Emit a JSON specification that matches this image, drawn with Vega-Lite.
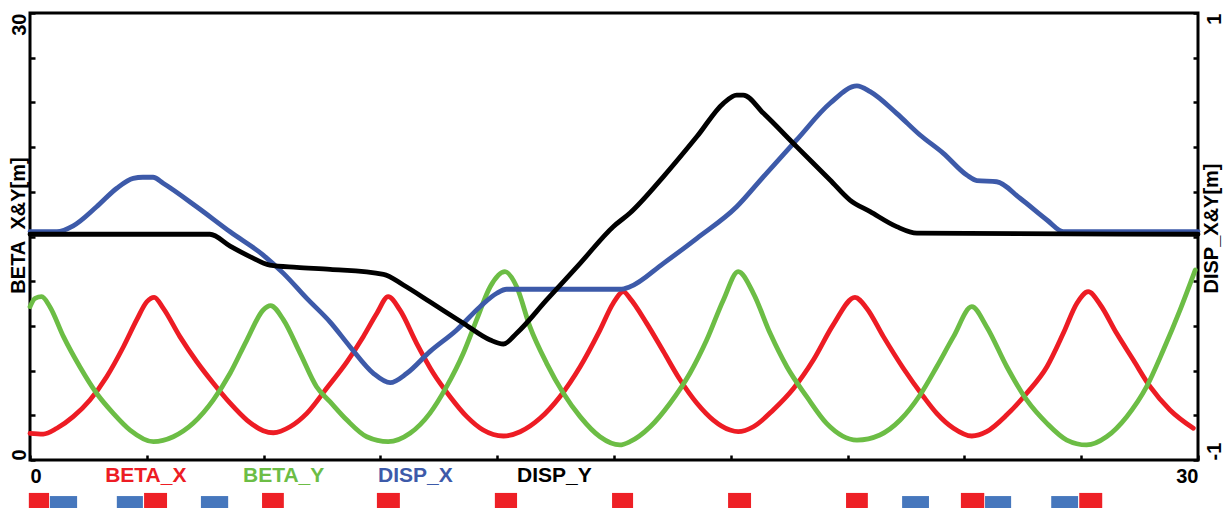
{
  "$schema": "https://vega.github.io/schema/vega-lite/v6.json",
  "width": 1168,
  "height": 447,
  "autosize": {"type": "none"},
  "padding": {"left": 30, "top": 13, "right": 34, "bottom": 55},
  "background": "white",
  "datasets": {
    "beta": [
      {"s": 0, "v": 1.79, "series": "BETA_X"},
      {"s": 0.34, "v": 1.74, "series": "BETA_X"},
      {"s": 0.69, "v": 2.13, "series": "BETA_X"},
      {"s": 1.11, "v": 2.91, "series": "BETA_X"},
      {"s": 1.54, "v": 4.03, "series": "BETA_X"},
      {"s": 1.97, "v": 5.59, "series": "BETA_X"},
      {"s": 2.40, "v": 7.60, "series": "BETA_X"},
      {"s": 2.74, "v": 9.40, "series": "BETA_X"},
      {"s": 3.00, "v": 10.62, "series": "BETA_X"},
      {"s": 3.19, "v": 10.92, "series": "BETA_X"},
      {"s": 3.42, "v": 10.19, "series": "BETA_X"},
      {"s": 3.85, "v": 8.28, "series": "BETA_X"},
      {"s": 4.28, "v": 6.61, "series": "BETA_X"},
      {"s": 4.71, "v": 5.15, "series": "BETA_X"},
      {"s": 5.14, "v": 3.81, "series": "BETA_X"},
      {"s": 5.57, "v": 2.68, "series": "BETA_X"},
      {"s": 5.99, "v": 1.97, "series": "BETA_X"},
      {"s": 6.25, "v": 1.83, "series": "BETA_X"},
      {"s": 6.68, "v": 2.23, "series": "BETA_X"},
      {"s": 7.11, "v": 3.13, "series": "BETA_X"},
      {"s": 7.62, "v": 4.82, "series": "BETA_X"},
      {"s": 8.14, "v": 6.59, "series": "BETA_X"},
      {"s": 8.56, "v": 8.28, "series": "BETA_X"},
      {"s": 8.91, "v": 9.85, "series": "BETA_X"},
      {"s": 9.20, "v": 10.96, "series": "BETA_X"},
      {"s": 9.50, "v": 10.07, "series": "BETA_X"},
      {"s": 9.93, "v": 7.83, "series": "BETA_X"},
      {"s": 10.36, "v": 5.82, "series": "BETA_X"},
      {"s": 10.79, "v": 4.25, "series": "BETA_X"},
      {"s": 11.22, "v": 2.91, "series": "BETA_X"},
      {"s": 11.64, "v": 2.01, "series": "BETA_X"},
      {"s": 12.16, "v": 1.61, "series": "BETA_X"},
      {"s": 12.59, "v": 1.90, "series": "BETA_X"},
      {"s": 13.10, "v": 2.80, "series": "BETA_X"},
      {"s": 13.61, "v": 4.25, "series": "BETA_X"},
      {"s": 14.13, "v": 6.26, "series": "BETA_X"},
      {"s": 14.64, "v": 8.72, "series": "BETA_X"},
      {"s": 14.98, "v": 10.52, "series": "BETA_X"},
      {"s": 15.24, "v": 11.30, "series": "BETA_X"},
      {"s": 15.41, "v": 10.85, "series": "BETA_X"},
      {"s": 15.84, "v": 9.17, "series": "BETA_X"},
      {"s": 16.27, "v": 7.28, "series": "BETA_X"},
      {"s": 16.70, "v": 5.37, "series": "BETA_X"},
      {"s": 17.13, "v": 3.81, "series": "BETA_X"},
      {"s": 17.55, "v": 2.68, "series": "BETA_X"},
      {"s": 17.98, "v": 2.01, "series": "BETA_X"},
      {"s": 18.19, "v": 1.90, "series": "BETA_X"},
      {"s": 18.58, "v": 2.23, "series": "BETA_X"},
      {"s": 19.09, "v": 3.36, "series": "BETA_X"},
      {"s": 19.61, "v": 4.80, "series": "BETA_X"},
      {"s": 20.12, "v": 6.71, "series": "BETA_X"},
      {"s": 20.63, "v": 9.07, "series": "BETA_X"},
      {"s": 21.19, "v": 10.92, "series": "BETA_X"},
      {"s": 21.49, "v": 10.19, "series": "BETA_X"},
      {"s": 21.92, "v": 8.28, "series": "BETA_X"},
      {"s": 22.43, "v": 6.16, "series": "BETA_X"},
      {"s": 22.95, "v": 4.25, "series": "BETA_X"},
      {"s": 23.29, "v": 3.13, "series": "BETA_X"},
      {"s": 23.72, "v": 2.13, "series": "BETA_X"},
      {"s": 24.19, "v": 1.61, "series": "BETA_X"},
      {"s": 24.57, "v": 1.90, "series": "BETA_X"},
      {"s": 25.09, "v": 3.03, "series": "BETA_X"},
      {"s": 25.60, "v": 4.48, "series": "BETA_X"},
      {"s": 26.12, "v": 6.26, "series": "BETA_X"},
      {"s": 26.54, "v": 8.50, "series": "BETA_X"},
      {"s": 26.89, "v": 10.52, "series": "BETA_X"},
      {"s": 27.18, "v": 11.30, "series": "BETA_X"},
      {"s": 27.49, "v": 10.42, "series": "BETA_X"},
      {"s": 27.91, "v": 8.50, "series": "BETA_X"},
      {"s": 28.34, "v": 6.71, "series": "BETA_X"},
      {"s": 28.77, "v": 4.92, "series": "BETA_X"},
      {"s": 29.28, "v": 3.36, "series": "BETA_X"},
      {"s": 29.88, "v": 2.13, "series": "BETA_X"},
      {"s": 0, "v": 10.29, "series": "BETA_Y"},
      {"s": 0.13, "v": 10.85, "series": "BETA_Y"},
      {"s": 0.30, "v": 10.96, "series": "BETA_Y"},
      {"s": 0.51, "v": 10.29, "series": "BETA_Y"},
      {"s": 0.86, "v": 8.28, "series": "BETA_Y"},
      {"s": 1.28, "v": 6.26, "series": "BETA_Y"},
      {"s": 1.71, "v": 4.48, "series": "BETA_Y"},
      {"s": 2.14, "v": 3.13, "series": "BETA_Y"},
      {"s": 2.57, "v": 2.01, "series": "BETA_Y"},
      {"s": 3.17, "v": 1.23, "series": "BETA_Y"},
      {"s": 3.68, "v": 1.56, "series": "BETA_Y"},
      {"s": 4.19, "v": 2.46, "series": "BETA_Y"},
      {"s": 4.71, "v": 4.03, "series": "BETA_Y"},
      {"s": 5.14, "v": 5.82, "series": "BETA_Y"},
      {"s": 5.57, "v": 8.05, "series": "BETA_Y"},
      {"s": 5.99, "v": 10.07, "series": "BETA_Y"},
      {"s": 6.18, "v": 10.36, "series": "BETA_Y"},
      {"s": 6.51, "v": 9.40, "series": "BETA_Y"},
      {"s": 6.94, "v": 7.16, "series": "BETA_Y"},
      {"s": 7.36, "v": 4.92, "series": "BETA_Y"},
      {"s": 7.71, "v": 3.90, "series": "BETA_Y"},
      {"s": 8.14, "v": 2.68, "series": "BETA_Y"},
      {"s": 8.65, "v": 1.56, "series": "BETA_Y"},
      {"s": 9.20, "v": 1.23, "series": "BETA_Y"},
      {"s": 9.76, "v": 1.79, "series": "BETA_Y"},
      {"s": 10.27, "v": 3.13, "series": "BETA_Y"},
      {"s": 10.70, "v": 4.92, "series": "BETA_Y"},
      {"s": 11.13, "v": 7.16, "series": "BETA_Y"},
      {"s": 11.47, "v": 9.40, "series": "BETA_Y"},
      {"s": 11.82, "v": 11.63, "series": "BETA_Y"},
      {"s": 12.20, "v": 12.64, "series": "BETA_Y"},
      {"s": 12.50, "v": 11.63, "series": "BETA_Y"},
      {"s": 12.84, "v": 8.95, "series": "BETA_Y"},
      {"s": 13.27, "v": 6.49, "series": "BETA_Y"},
      {"s": 13.70, "v": 4.48, "series": "BETA_Y"},
      {"s": 14.13, "v": 2.91, "series": "BETA_Y"},
      {"s": 14.64, "v": 1.56, "series": "BETA_Y"},
      {"s": 15.15, "v": 1.01, "series": "BETA_Y"},
      {"s": 15.41, "v": 1.23, "series": "BETA_Y"},
      {"s": 15.93, "v": 2.23, "series": "BETA_Y"},
      {"s": 16.44, "v": 3.81, "series": "BETA_Y"},
      {"s": 16.95, "v": 5.82, "series": "BETA_Y"},
      {"s": 17.38, "v": 8.05, "series": "BETA_Y"},
      {"s": 17.81, "v": 10.74, "series": "BETA_Y"},
      {"s": 18.19, "v": 12.64, "series": "BETA_Y"},
      {"s": 18.58, "v": 11.19, "series": "BETA_Y"},
      {"s": 19.01, "v": 8.50, "series": "BETA_Y"},
      {"s": 19.44, "v": 6.26, "series": "BETA_Y"},
      {"s": 19.95, "v": 4.25, "series": "BETA_Y"},
      {"s": 20.46, "v": 2.46, "series": "BETA_Y"},
      {"s": 21.24, "v": 1.34, "series": "BETA_Y"},
      {"s": 21.83, "v": 1.68, "series": "BETA_Y"},
      {"s": 22.35, "v": 2.68, "series": "BETA_Y"},
      {"s": 22.86, "v": 4.36, "series": "BETA_Y"},
      {"s": 23.29, "v": 6.26, "series": "BETA_Y"},
      {"s": 23.72, "v": 8.28, "series": "BETA_Y"},
      {"s": 24.19, "v": 10.29, "series": "BETA_Y"},
      {"s": 24.57, "v": 8.95, "series": "BETA_Y"},
      {"s": 25.09, "v": 6.26, "series": "BETA_Y"},
      {"s": 25.60, "v": 4.03, "series": "BETA_Y"},
      {"s": 26.12, "v": 2.46, "series": "BETA_Y"},
      {"s": 26.63, "v": 1.34, "series": "BETA_Y"},
      {"s": 27.14, "v": 1.01, "series": "BETA_Y"},
      {"s": 27.65, "v": 1.56, "series": "BETA_Y"},
      {"s": 28.17, "v": 2.91, "series": "BETA_Y"},
      {"s": 28.68, "v": 4.92, "series": "BETA_Y"},
      {"s": 29.11, "v": 7.38, "series": "BETA_Y"},
      {"s": 29.54, "v": 10.07, "series": "BETA_Y"},
      {"s": 29.93, "v": 12.75, "series": "BETA_Y"}
    ],
    "disp": [
      {"s": 0, "v": 0.022, "series": "DISP_X"},
      {"s": 0.69, "v": 0.022, "series": "DISP_X"},
      {"s": 1.11, "v": 0.048, "series": "DISP_X"},
      {"s": 1.71, "v": 0.133, "series": "DISP_X"},
      {"s": 2.23, "v": 0.216, "series": "DISP_X"},
      {"s": 2.65, "v": 0.260, "series": "DISP_X"},
      {"s": 2.90, "v": 0.265, "series": "DISP_X"},
      {"s": 3.16, "v": 0.265, "series": "DISP_X"},
      {"s": 3.42, "v": 0.238, "series": "DISP_X"},
      {"s": 4.28, "v": 0.133, "series": "DISP_X"},
      {"s": 5.14, "v": 0.021, "series": "DISP_X"},
      {"s": 5.99, "v": -0.083, "series": "DISP_X"},
      {"s": 6.51, "v": -0.165, "series": "DISP_X"},
      {"s": 7.11, "v": -0.277, "series": "DISP_X"},
      {"s": 7.71, "v": -0.383, "series": "DISP_X"},
      {"s": 8.22, "v": -0.493, "series": "DISP_X"},
      {"s": 8.82, "v": -0.612, "series": "DISP_X"},
      {"s": 9.25, "v": -0.654, "series": "DISP_X"},
      {"s": 9.68, "v": -0.612, "series": "DISP_X"},
      {"s": 10.27, "v": -0.515, "series": "DISP_X"},
      {"s": 10.96, "v": -0.418, "series": "DISP_X"},
      {"s": 11.56, "v": -0.314, "series": "DISP_X"},
      {"s": 11.99, "v": -0.254, "series": "DISP_X"},
      {"s": 12.24, "v": -0.236, "series": "DISP_X"},
      {"s": 15.16, "v": -0.236, "series": "DISP_X"},
      {"s": 15.41, "v": -0.225, "series": "DISP_X"},
      {"s": 16.27, "v": -0.120, "series": "DISP_X"},
      {"s": 17.13, "v": -0.008, "series": "DISP_X"},
      {"s": 18.15, "v": 0.133, "series": "DISP_X"},
      {"s": 18.84, "v": 0.268, "series": "DISP_X"},
      {"s": 19.69, "v": 0.432, "series": "DISP_X"},
      {"s": 20.55, "v": 0.596, "series": "DISP_X"},
      {"s": 21.24, "v": 0.674, "series": "DISP_X"},
      {"s": 21.58, "v": 0.648, "series": "DISP_X"},
      {"s": 22.26, "v": 0.551, "series": "DISP_X"},
      {"s": 22.86, "v": 0.454, "series": "DISP_X"},
      {"s": 23.46, "v": 0.372, "series": "DISP_X"},
      {"s": 24.06, "v": 0.275, "series": "DISP_X"},
      {"s": 24.32, "v": 0.250, "series": "DISP_X"},
      {"s": 24.83, "v": 0.245, "series": "DISP_X"},
      {"s": 25.43, "v": 0.171, "series": "DISP_X"},
      {"s": 26.12, "v": 0.074, "series": "DISP_X"},
      {"s": 26.54, "v": 0.022, "series": "DISP_X"},
      {"s": 30, "v": 0.022, "series": "DISP_X"},
      {"s": 0, "v": 0.01, "series": "DISP_Y"},
      {"s": 4.62, "v": 0.01, "series": "DISP_Y"},
      {"s": 5.14, "v": -0.043, "series": "DISP_Y"},
      {"s": 5.65, "v": -0.090, "series": "DISP_Y"},
      {"s": 6.16, "v": -0.128, "series": "DISP_Y"},
      {"s": 6.85, "v": -0.138, "series": "DISP_Y"},
      {"s": 7.71, "v": -0.147, "series": "DISP_Y"},
      {"s": 9.08, "v": -0.169, "series": "DISP_Y"},
      {"s": 9.59, "v": -0.217, "series": "DISP_Y"},
      {"s": 10.27, "v": -0.292, "series": "DISP_Y"},
      {"s": 11.13, "v": -0.388, "series": "DISP_Y"},
      {"s": 11.82, "v": -0.463, "series": "DISP_Y"},
      {"s": 12.16, "v": -0.481, "series": "DISP_Y"},
      {"s": 12.50, "v": -0.433, "series": "DISP_Y"},
      {"s": 13.27, "v": -0.284, "series": "DISP_Y"},
      {"s": 14.13, "v": -0.120, "series": "DISP_Y"},
      {"s": 14.98, "v": 0.044, "series": "DISP_Y"},
      {"s": 15.41, "v": 0.105, "series": "DISP_Y"},
      {"s": 16.27, "v": 0.268, "series": "DISP_Y"},
      {"s": 17.13, "v": 0.447, "series": "DISP_Y"},
      {"s": 17.81, "v": 0.596, "series": "DISP_Y"},
      {"s": 18.15, "v": 0.633, "series": "DISP_Y"},
      {"s": 18.32, "v": 0.633, "series": "DISP_Y"},
      {"s": 18.84, "v": 0.551, "series": "DISP_Y"},
      {"s": 19.69, "v": 0.402, "series": "DISP_Y"},
      {"s": 20.55, "v": 0.253, "series": "DISP_Y"},
      {"s": 21.06, "v": 0.163, "series": "DISP_Y"},
      {"s": 21.58, "v": 0.111, "series": "DISP_Y"},
      {"s": 22.26, "v": 0.044, "series": "DISP_Y"},
      {"s": 22.78, "v": 0.015, "series": "DISP_Y"},
      {"s": 30, "v": 0.01, "series": "DISP_Y"}
    ],
    "legendLabels": [
      {"label": "BETA_X", "s": 1.93},
      {"label": "BETA_Y", "s": 5.47},
      {"label": "DISP_X", "s": 8.94},
      {"label": "DISP_Y", "s": 12.51}
    ],
    "elements": [
      {"kind": "F", "s0": -0.03, "s1": 0.49},
      {"kind": "F", "s0": 2.93, "s1": 3.52},
      {"kind": "F", "s0": 5.96, "s1": 6.52},
      {"kind": "F", "s0": 8.91, "s1": 9.50},
      {"kind": "F", "s0": 11.94, "s1": 12.51},
      {"kind": "F", "s0": 14.95, "s1": 15.49},
      {"kind": "F", "s0": 17.93, "s1": 18.52},
      {"kind": "F", "s0": 20.96, "s1": 21.52},
      {"kind": "F", "s0": 23.91, "s1": 24.51},
      {"kind": "F", "s0": 26.95, "s1": 27.54},
      {"kind": "D", "s0": 0.51, "s1": 1.21},
      {"kind": "D", "s0": 2.23, "s1": 2.90},
      {"kind": "D", "s0": 4.39, "s1": 5.09},
      {"kind": "D", "s0": 22.40, "s1": 23.09},
      {"kind": "D", "s0": 24.53, "s1": 25.20},
      {"kind": "D", "s0": 26.23, "s1": 26.92}
    ]
  },
  "layer": [
    {
      "layer": [
        {
          "data": {"name": "beta"},
          "mark": {"type": "line", "strokeWidth": 4.8, "strokeJoin": "round", "strokeCap": "round", "interpolate": "monotone"},
          "encoding": {
            "x": {
              "field": "s", "type": "quantitative",
              "scale": {"domain": [0, 30], "nice": false, "zero": false},
              "axis": {
                "values": [0, 3, 6, 9, 12, 15, 18, 21, 24, 27, 30],
                "labelExpr": "datum.value == 0 || datum.value == 30 ? datum.label : ''",
                "labelFlush": true,
                "labelOverlap": false,
                "labelBaseline": "alphabetic",
                "labelPadding": 27,
                "labelAngle": 0,
                "title": null
              }
            },
            "y": {
              "field": "v", "type": "quantitative",
              "scale": {"domain": [0, 30], "nice": false, "zero": false},
              "axis": {
                "orient": "left",
                "values": [0, 3, 6, 9, 12, 15, 18, 21, 24, 27, 30],
                "labelExpr": "datum.value == 0 || datum.value == 30 ? datum.label : ''",
                "labelOverlap": false,
                "labelAngle": -90,
                "labelAlign": {"condition": {"test": "datum.value == 0", "value": "left"}, "value": "right"},
                "labelBaseline": "alphabetic",
                "labelPadding": 10,
                "title": "BETA\u00a0\u00a0X&Y[m]",
                "titleAngle": -90,
                "titleAlign": "center",
                "titleBaseline": "alphabetic",
                "titleX": -6,
                "titleY": 212
              }
            },
            "color": {
              "field": "series", "type": "nominal",
              "scale": {"domain": ["BETA_X", "BETA_Y", "DISP_X", "DISP_Y"], "range": ["#ED1C24", "#6CBD45", "#3D5AA9", "#000000"]},
              "legend": null
            }
          }
        },
        {
          "data": {"name": "legendLabels"},
          "mark": {"type": "text", "align": "left", "baseline": "alphabetic", "font": "Liberation Sans", "fontWeight": "bold", "fontSize": 21},
          "encoding": {
            "x": {"field": "s", "type": "quantitative"},
            "y": {"datum": -1.48, "type": "quantitative"},
            "text": {"field": "label"},
            "color": {"field": "label", "type": "nominal", "legend": null}
          }
        },
        {
          "data": {"name": "elements"},
          "transform": [{"filter": "datum.kind == 'F'"}],
          "mark": {"type": "rect", "color": "#EE2026"},
          "encoding": {
            "x": {"field": "s0", "type": "quantitative"},
            "x2": {"field": "s1"},
            "y": {"datum": -2.21, "type": "quantitative"},
            "y2": {"datum": -3.22}
          }
        },
        {
          "data": {"name": "elements"},
          "transform": [{"filter": "datum.kind == 'D'"}],
          "mark": {"type": "rect", "color": "#4677BD"},
          "encoding": {
            "x": {"field": "s0", "type": "quantitative"},
            "x2": {"field": "s1"},
            "y": {"datum": -2.42, "type": "quantitative"},
            "y2": {"datum": -3.22}
          }
        }
      ]
    },
    {
      "data": {"name": "disp"},
      "mark": {"type": "line", "strokeWidth": 4.8, "strokeJoin": "round", "strokeCap": "round", "interpolate": "monotone"},
      "encoding": {
        "x": {"field": "s", "type": "quantitative"},
        "y": {
          "field": "v", "type": "quantitative",
          "scale": {"domain": [-1, 1], "nice": false, "zero": false},
          "axis": {
            "orient": "right",
            "values": [-1, -0.8, -0.6, -0.4, -0.2, 0, 0.2, 0.4, 0.6, 0.8, 1],
            "labelExpr": "datum.value == 1 ? '1' : (datum.value == -1 ? '-1' : '')",
            "labelOverlap": false,
            "labelAngle": -90,
            "labelAlign": {"condition": {"test": "datum.value == -1", "value": "left"}, "value": "right"},
            "labelBaseline": "alphabetic",
            "labelPadding": 27,
            "title": "DISP_X&Y[m]",
            "titleAngle": -90,
            "titleAlign": "center",
            "titleBaseline": "alphabetic",
            "titleX": 19,
            "titleY": 215
          }
        },
        "color": {"field": "series", "type": "nominal", "legend": null}
      }
    }
  ],
  "resolve": {"scale": {"y": "independent"}, "axis": {"y": "independent"}},
  "config": {
    "view": {"stroke": "black", "strokeWidth": 3},
    "axis": {
      "domain": false,
      "grid": false,
      "ticks": true,
      "tickColor": "black",
      "tickWidth": 2.5,
      "tickSize": -5,
      "labelFont": "Liberation Sans",
      "labelFontWeight": "bold",
      "labelFontSize": 20,
      "labelColor": "black",
      "titleFont": "Liberation Sans",
      "titleFontWeight": "bold",
      "titleFontSize": 20,
      "titleColor": "black"
    }
  }
}
